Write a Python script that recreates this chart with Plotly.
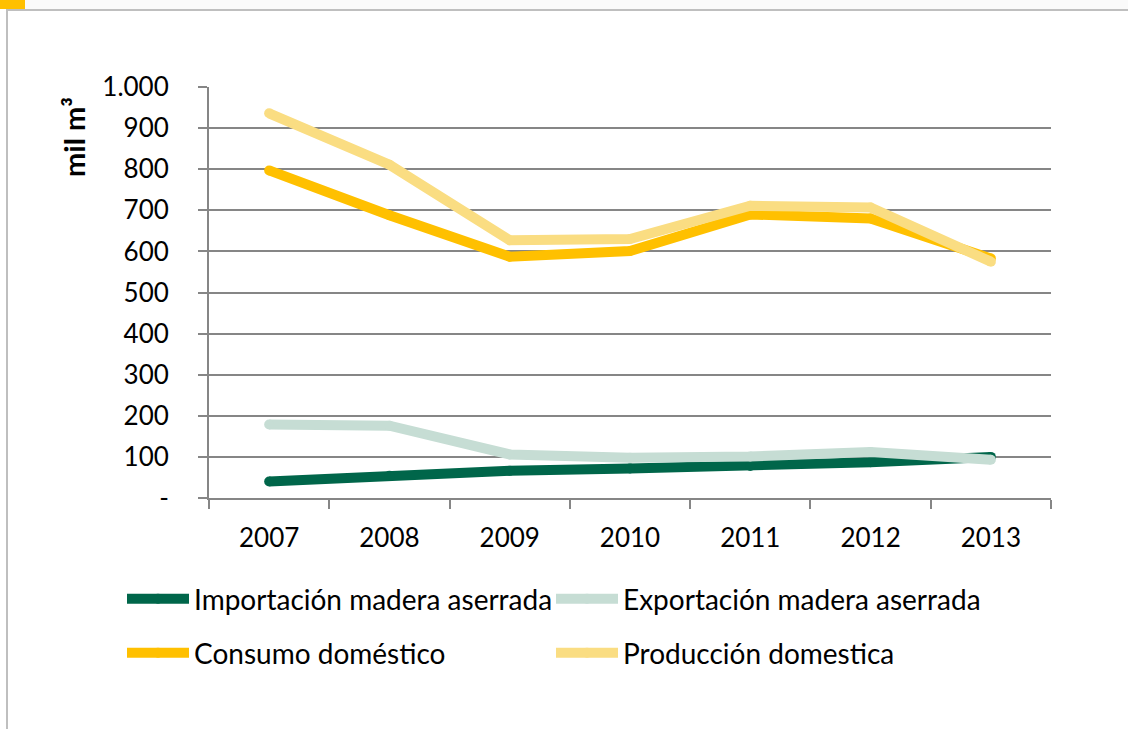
import plotly.graph_objects as go

# Lumber balance, thousand cubic metres
years = ["2007", "2008", "2009", "2010", "2011", "2012", "2013"]
importacion = [40, 54, 66, 72, 78, 87, 100]
exportacion = [179, 176, 106, 98, 101, 112, 93]
consumo = [797, 688, 587, 601, 690, 680, 583]
produccion = [936, 811, 627, 630, 711, 707, 575]

y_ticks = [0, 100, 200, 300, 400, 500, 600, 700, 800, 900, 1000]
y_tick_labels = ["-", "100", "200", "300", "400", "500", "600", "700", "800", "900", "1.000"]

# name, values, colour, legend row
series = [
    ("Importación madera aserrada", importacion, "#00664A", "legend"),
    ("Exportación madera aserrada", exportacion, "#C6DDD4", "legend"),
    ("Consumo doméstico", consumo, "#FFC000", "legend2"),
    ("Producción domestica", produccion, "#FADD82", "legend2"),
]

W, H = 1128, 729
L, R, T, B = 209, 1051, 87, 498  # plot area in pixels


def px(x):
    return (x - L) / (R - L)


def py(y):
    return (B - y) / (B - T)


FONT = "Lato"
LW = 10
TICK_SIZE = 26
LEGEND_SIZE = 28

fig = go.Figure()
for name, vals, color, leg in series:
    fig.add_trace(go.Scatter(
        x=years, y=vals, name=name, mode="lines+markers",
        line=dict(color=color, width=LW),
        marker=dict(color=color, size=LW, line=dict(width=0)),
        legend=leg, hoverinfo="skip",
    ))

shapes = [
    # frame: top strip, top rule, left rule, corner tab
    dict(type="rect", xref="paper", yref="paper", x0=px(0), x1=px(W), y0=py(0), y1=py(9),
         fillcolor="#FAFAFA", line=dict(width=0), layer="below"),
    dict(type="line", xref="paper", yref="paper", x0=px(6), x1=px(W), y0=py(10), y1=py(10),
         line=dict(color="#BFBFBF", width=2)),
    dict(type="line", xref="paper", yref="paper", x0=px(7), x1=px(7), y0=py(10), y1=py(H),
         line=dict(color="#BFBFBF", width=2)),
    dict(type="rect", xref="paper", yref="paper", x0=px(0), x1=px(25), y0=py(0), y1=py(9),
         fillcolor="#FFC000", line=dict(width=0)),
]

legend_common = dict(
    orientation="h", xanchor="left", yanchor="middle",
    entrywidth=352, entrywidthmode="pixels", itemwidth=62,
    font=dict(family=FONT, size=LEGEND_SIZE, color="#000000"),
    itemclick=False, itemdoubleclick=False, bgcolor="rgba(0,0,0,0)",
)

fig.update_layout(
    width=W, height=H,
    margin=dict(l=L, r=W - R, t=T, b=H - B, pad=0),
    paper_bgcolor="white", plot_bgcolor="white",
    font=dict(family=FONT, size=TICK_SIZE, color="#000000"),
    shapes=shapes,
    showlegend=True,
    legend=dict(x=px(122), y=py(599), **legend_common),
    legend2=dict(x=px(122), y=py(653), **legend_common),
    annotations=[dict(
        text="<b>mil m³</b>", xref="paper", yref="paper", x=px(73), y=py(137),
        xanchor="center", yanchor="middle", textangle=-90, showarrow=False,
        font=dict(family=FONT, size=29, color="#000000"),
    )],
)

fig.update_xaxes(
    type="category", range=[-0.5, 6.5], tickson="boundaries",
    ticks="outside", ticklen=9, tickcolor="#868686", tickwidth=2,
    showline=True, linecolor="#868686", linewidth=2,
    showgrid=False, zeroline=False, ticklabelstandoff=16,
    tickfont=dict(family=FONT, size=TICK_SIZE, color="#000000"),
)
fig.update_yaxes(
    range=[0, 1000], tickvals=y_ticks, ticktext=y_tick_labels,
    ticks="outside", ticklen=9, tickcolor="#868686", tickwidth=2,
    showline=True, linecolor="#868686", linewidth=2,
    showgrid=True, gridcolor="#868686", gridwidth=2, zeroline=False,
    ticklabelstandoff=24,
    tickfont=dict(family=FONT, size=TICK_SIZE, color="#000000"),
)

fig.write_html("out.html")
